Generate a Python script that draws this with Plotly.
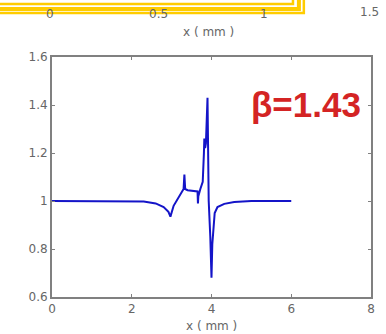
import plotly.graph_objects as go

# data
x_mm = [0.0, 1.5, 2.3, 2.6, 2.8, 2.92, 2.97, 3.05, 3.15, 3.25, 3.3, 3.32, 3.34, 3.4, 3.55, 3.65, 3.66, 3.67,
        3.72, 3.78, 3.81, 3.82, 3.84, 3.86, 3.9, 3.91, 3.93, 3.97, 4.0, 4.02, 4.05, 4.08, 4.15, 4.32, 4.57, 5.0, 6.0]
ratio = [1.0, 1.0, 0.998, 0.99, 0.975, 0.955, 0.935, 0.98, 1.01, 1.04, 1.05, 1.11, 1.05, 1.045, 1.042, 1.04, 0.99, 1.02,
         1.05, 1.08, 1.2, 1.26, 1.22, 1.24, 1.43, 1.1, 1.0, 0.85, 0.68, 0.82, 0.90, 0.95, 0.975, 0.988, 0.996, 1.0, 1.0]

x_ticks = [0, 2, 4, 6, 8]
y_ticks = [0.6, 0.8, 1.0, 1.2, 1.4, 1.6]
y_tick_text = ["0.6", "0.8", "1", "1.2", "1.4", "1.6"]
top_tick_text = ["0", "0.5", "1", "1.5"]

W, H = 386, 334
L, R, T, B = 52, 11, 57, 37
pw, ph = W - L - R, H - T - B

def px(xp):
    return (xp - L) / pw

def py(yp):
    return (H - B - yp) / ph

fig = go.Figure()
fig.add_trace(go.Scatter(x=x_mm, y=ratio, mode="lines",
                         line=dict(color="#1414c8", width=2), showlegend=False))

grey = "#666666"
axis_common = dict(showgrid=False, zeroline=False, showline=True, linecolor="#808080", linewidth=2,
                   mirror="ticks", ticks="inside", ticklen=3, tickcolor="#808080",
                   tickfont=dict(family="DejaVu Sans", size=12, color=grey))
fig.update_xaxes(range=[0, 8], tickvals=x_ticks, ticktext=[str(v) for v in x_ticks], **axis_common)
fig.update_yaxes(range=[0.6, 1.6], tickvals=y_ticks, ticktext=y_tick_text, **axis_common)

def note(text, xp, yp, size=12, color=grey, family="DejaVu Sans"):
    return dict(x=px(xp), y=py(yp), xref="paper", yref="paper", text=text, showarrow=False,
                xanchor="center", yanchor="middle",
                font=dict(family=family, size=size, color=color))

annotations = [
    note("x ( mm )", 213, 326),
    note("<b>β=1.43</b>", 309, 105, size=35, color="#d42424", family="Liberation Sans"),
    note("x ( mm )", 210, 32),
]
for t, xp, yp in zip(top_tick_text, [50, 160, 267, 373], [14, 14, 14, 12]):
    annotations.append(note(t, xp, yp))

shapes = []
yellow = "#ffcc00"
for (yb, xr, w) in [(13, 307, 2.5), (9, 302, 4), (4, 296, 2.5)]:
    shapes.append(dict(type="path", xref="paper", yref="paper", layer="above",
                       path=f"M {px(-5)} {py(yb)} L {px(xr)} {py(yb)} L {px(xr)} {py(-5)}",
                       line=dict(color=yellow, width=w)))

fig.update_layout(width=W, height=H, margin=dict(l=L, r=R, t=T, b=B),
                  paper_bgcolor="white", plot_bgcolor="white",
                  annotations=annotations, shapes=shapes)

fig.write_html("out.html", config={"displayModeBar": False},
               post_script="document.body.style.margin='0';")
